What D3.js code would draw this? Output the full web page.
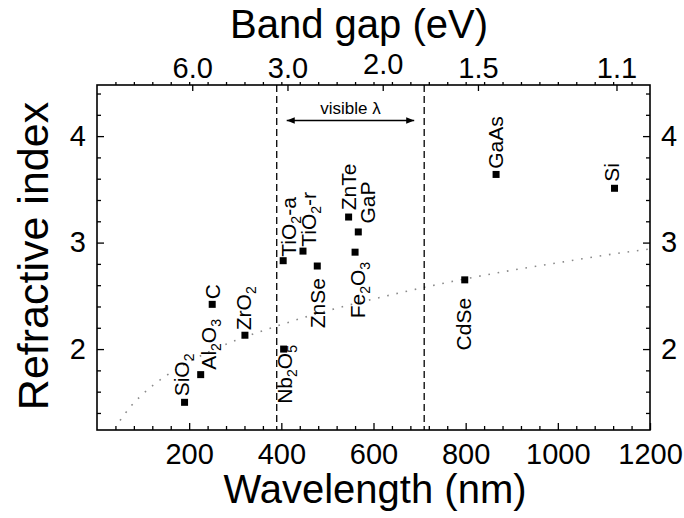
<!DOCTYPE html>
<html>
<head>
<meta charset="utf-8">
<script src="https://cdn.jsdelivr.net/npm/d3@7"></script>
<style>
  html, body { margin: 0; padding: 0; background: #fff; }
  svg { display: block; font-family: "Liberation Sans", Arial, Helvetica, sans-serif; }
</style>
</head>
<body>
<svg id="chart" width="684" height="518"></svg>
<script>
// ---------------- data ----------------
const materials   = ["SiO2", "Al2O3", "C", "ZrO2", "Nb2O5", "TiO2-a", "TiO2-r", "ZnSe", "Fe2O3", "ZnTe", "GaP", "CdSe", "GaAs", "Si"];
const wavelengths = [190, 225, 250, 321, 405, 404, 447, 478, 560, 546, 567, 798, 866, 1123];
const indices     = [1.50, 1.76, 2.42, 2.13, 2.00, 2.83, 2.92, 2.78, 2.91, 3.24, 3.10, 2.65, 3.64, 3.51];

// dotted guide curve
const curveLambda = [50, 75, 100, 150, 200, 250, 300, 400, 500, 600, 700, 800, 900, 1000, 1100, 1200];
const curveN      = [1.33, 1.47, 1.58, 1.75, 1.88, 1.99, 2.08, 2.23, 2.36, 2.47, 2.57, 2.66, 2.74, 2.81, 2.88, 2.94];

const visibleRange = [390, 710];
const xTicksMajor  = [200, 400, 600, 800, 1000, 1200];
const yTicksMajor  = [2, 3, 4];
const bandGapTicks = [6.0, 3.0, 2.0, 1.5, 1.1];
const bandGapLabels = ["6.0", "3.0", "2.0", "1.5", "1.1"];

// ---------------- layout (not data) ----------------
const frame = { left: 97, right: 650, top: 85, bottom: 430 };
const FONT = "Liberation Sans, Arial, Helvetica, sans-serif";
const labelLayout = {
  "SiO2":   { dx: 4,    dy: -6,   anchor: "start" },
  "Al2O3":  { dx: 15,   dy: -5,   anchor: "start" },
  "C":      { dx: 8,    dy: -5,   anchor: "start" },
  "ZrO2":   { dx: 6.5,  dy: -5,   anchor: "start" },
  "Nb2O5":  { dx: 8.5,  dy: -4,   anchor: "end" },
  "TiO2-a": { dx: 13,   dy: -4,   anchor: "start" },
  "TiO2-r": { dx: 13.4, dy: -4.3, anchor: "start" },
  "ZnSe":   { dx: 7.3,  dy: 12,   anchor: "end" },
  "Fe2O3":  { dx: 10.3, dy: 9.7,  anchor: "end" },
  "ZnTe":   { dx: 7.4,  dy: -6.7, anchor: "start" },
  "GaP":    { dx: 16.3, dy: -8.4, anchor: "start" },
  "CdSe":   { dx: 6.4,  dy: 18,   anchor: "end" },
  "GaAs":   { dx: 7,    dy: -5.7, anchor: "start" },
  "Si":     { dx: 4.7,  dy: -6.6, anchor: "start" }
};

const svg = d3.select("#chart");
svg.append("rect").attr("width", 684).attr("height", 518).attr("fill", "#fff");

const x = d3.scaleLinear().domain([0, 1200]).range([frame.left, frame.right]);
const y = d3.scaleLinear().domain([1.24, 4.48]).range([frame.bottom, frame.top]);

const xMinor = d3.range(40, 1200, 40).filter(v => v % 200 !== 0);
const yMinor = d3.range(1.4, 4.41, 0.2).map(v => +v.toFixed(1)).filter(v => Math.abs(v - Math.round(v)) > 1e-6);

function styleAxis(g) {
  g.attr("font-family", FONT).attr("font-size", null);
  g.select(".domain").remove();
  g.selectAll("text").attr("font-size", 29).attr("fill", "#000");
}

// ---- bottom axis (ticks inward) ----
svg.append("g").attr("transform", `translate(0,${frame.bottom})`)
  .call(d3.axisBottom(x).tickValues(xMinor).tickSize(-4).tickFormat("")).call(styleAxis);
svg.append("g").attr("transform", `translate(0,${frame.bottom})`)
  .call(d3.axisBottom(x).tickValues(xTicksMajor).tickSize(-7).tickPadding(13).tickFormat(d3.format("d")))
  .call(styleAxis);

// ---- top axis: wavelength ticks tiny outward ----
svg.append("g").attr("transform", `translate(0,${frame.top})`)
  .call(d3.axisTop(x).tickValues(d3.range(40, 1200, 40)).tickSize(3).tickFormat("")).call(styleAxis);

// ---- top axis: band gap (eV) ticks inward ----
const eVtoNm = ev => 1240 / ev;
const gE = svg.append("g").attr("transform", `translate(0,${frame.top})`)
  .call(d3.axisTop(x).tickValues(bandGapTicks.map(eVtoNm)).tickSize(-6)
    .tickFormat((d, i) => bandGapLabels[i]))
  .call(styleAxis);
gE.selectAll("text").attr("y", (d, i) => bandGapLabels[i] === "2.0" ? -11 : -7);

// ---- left axis ----
svg.append("g").attr("transform", `translate(${frame.left},0)`)
  .call(d3.axisLeft(y).tickValues(yMinor).tickSize(-4).tickFormat("")).call(styleAxis);
svg.append("g").attr("transform", `translate(${frame.left},0)`)
  .call(d3.axisLeft(y).tickValues(yTicksMajor).tickSize(-7).tickPadding(11).tickFormat(d3.format("d")))
  .call(styleAxis);

// ---- right axis ----
svg.append("g").attr("transform", `translate(${frame.right},0)`)
  .call(d3.axisRight(y).tickValues(yMinor).tickSize(-4).tickFormat("")).call(styleAxis);
svg.append("g").attr("transform", `translate(${frame.right},0)`)
  .call(d3.axisRight(y).tickValues(yTicksMajor).tickSize(-7).tickPadding(11).tickFormat(d3.format("d")))
  .call(styleAxis);

svg.selectAll(".tick line").attr("stroke", "#000").attr("stroke-width", 1.3);

// frame
svg.append("rect")
  .attr("x", frame.left).attr("y", frame.top)
  .attr("width", frame.right - frame.left).attr("height", frame.bottom - frame.top)
  .attr("fill", "none").attr("stroke", "#000").attr("stroke-width", 1.6);

// ---- dotted curve ----
const line = d3.line().x(d => x(d[0])).y(d => y(d[1])).curve(d3.curveMonotoneX);
svg.append("path")
  .datum(curveLambda.map((l, i) => [l, curveN[i]]))
  .attr("d", line)
  .attr("fill", "none").attr("stroke", "#8a8a8a").attr("stroke-width", 1.6)
  .attr("stroke-dasharray", "1.6,7.8");

// ---- visible range dashed lines ----
svg.selectAll(".vis").data(visibleRange).enter().append("line")
  .attr("x1", d => x(d)).attr("x2", d => x(d))
  .attr("y1", frame.top).attr("y2", frame.bottom)
  .attr("stroke", "#000").attr("stroke-width", 1.3).attr("stroke-dasharray", "7,4");

// arrow
const defs = svg.append("defs");
defs.append("marker").attr("id", "ah").attr("viewBox", "0 0 10 10")
  .attr("refX", 10).attr("refY", 5).attr("markerWidth", 10).attr("markerHeight", 8)
  .attr("markerUnits", "userSpaceOnUse").attr("orient", "auto-start-reverse")
  .append("path").attr("d", "M0,1 L10,5 L0,9 Z").attr("fill", "#000");
const arrowY = 120.5;
svg.append("line")
  .attr("x1", x(visibleRange[0]) + 10).attr("x2", x(visibleRange[1]) - 10)
  .attr("y1", arrowY).attr("y2", arrowY)
  .attr("stroke", "#000").attr("stroke-width", 1.3)
  .attr("marker-start", "url(#ah)").attr("marker-end", "url(#ah)");
svg.append("text")
  .attr("x", x((visibleRange[0] + visibleRange[1]) / 2)).attr("y", 114)
  .attr("text-anchor", "middle").attr("font-size", 17).text("visible λ");

// ---- points ----
const pts = materials.map((m, i) => ({ name: m, l: wavelengths[i], n: indices[i] }));
const ms = 7;
svg.selectAll(".pt").data(pts).enter().append("rect")
  .attr("x", d => x(d.l) - ms / 2).attr("y", d => y(d.n) - ms / 2)
  .attr("width", ms).attr("height", ms).attr("fill", "#000");

// ---- labels (rotated, digits as subscripts) ----
pts.forEach(d => {
  const L = labelLayout[d.name];
  const t = svg.append("text")
    .attr("transform", `translate(${x(d.l) + L.dx},${y(d.n) + L.dy}) rotate(-90)`)
    .attr("text-anchor", L.anchor).attr("font-size", 21).attr("fill", "#000");
  const parts = d.name.split(/(\d)/).filter(s => s.length);
  let inSub = false;
  parts.forEach(p => {
    const isDigit = /^\d$/.test(p);
    const ts = t.append("tspan").text(p);
    if (isDigit) {
      ts.attr("font-size", 14).attr("dy", inSub ? 0 : 5);
      inSub = true;
    } else {
      if (inSub) ts.attr("dy", -5);
      inSub = false;
    }
  });
});

// ---- axis titles ----
svg.append("text").attr("x", 375).attr("y", 503).attr("text-anchor", "middle")
  .attr("font-size", 40).text("Wavelength (nm)");
svg.append("text").attr("x", 359).attr("y", 38).attr("text-anchor", "middle")
  .attr("font-size", 40).text("Band gap (eV)");
svg.append("text").attr("transform", "translate(48,256) rotate(-90)").attr("text-anchor", "middle")
  .attr("font-size", 43).text("Refractive index");
</script>
</body>
</html>
